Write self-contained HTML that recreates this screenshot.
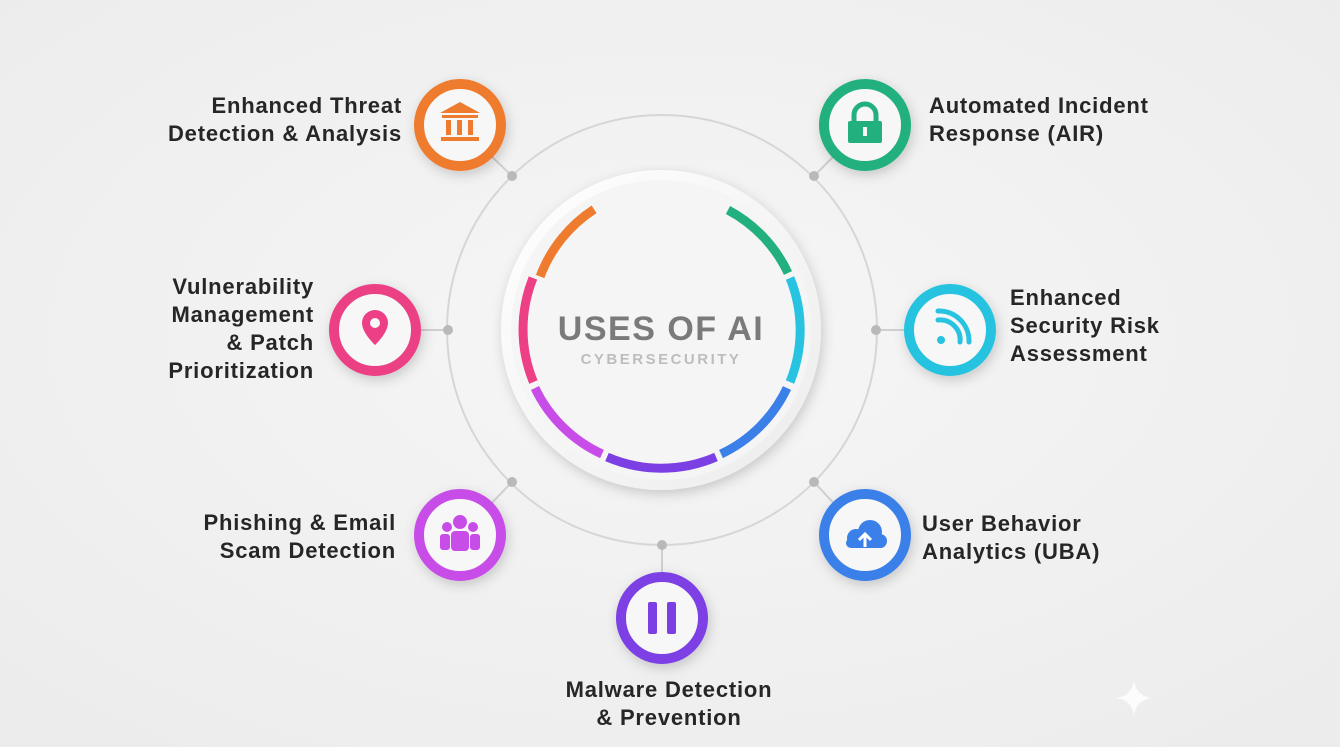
<!DOCTYPE html>
<html><head><style>
body{margin:0;width:1340px;height:747px;overflow:hidden;background:#f1f1f1;font-family:"Liberation Sans",sans-serif}
</style></head><body>
<svg width="1340" height="747" viewBox="0 0 1340 747" style="display:block">
<defs>
<radialGradient id="bg" cx="50%" cy="45%" r="70%"><stop offset="0" stop-color="#f6f6f6"/><stop offset="1" stop-color="#ececec"/></radialGradient>
<linearGradient id="disc" x1="0" y1="0" x2="1" y2="1"><stop offset="0" stop-color="#ffffff"/><stop offset="1" stop-color="#ececec"/></linearGradient>
<filter id="sh" x="-30%" y="-30%" width="160%" height="160%"><feDropShadow dx="2" dy="4" stdDeviation="6" flood-opacity="0.18"/></filter>
</defs>
<rect width="1340" height="747" fill="url(#bg)"/>
<circle cx="662" cy="330" r="215" fill="none" stroke="#d6d6d6" stroke-width="2"/>
<g stroke="#cfcfcf" stroke-width="2">
<line x1="512" y1="176" x2="485" y2="150"/>
<line x1="448" y1="330" x2="420" y2="330"/>
<line x1="512" y1="482" x2="485" y2="510"/>
<line x1="662" y1="545" x2="662" y2="572"/>
<line x1="814" y1="482" x2="840" y2="510"/>
<line x1="876" y1="330" x2="905" y2="330"/>
<line x1="814" y1="176" x2="840" y2="150"/>
</g>
<g fill="#b9b9b9">
<circle cx="512" cy="176" r="5"/><circle cx="448" cy="330" r="5"/><circle cx="512" cy="482" r="5"/><circle cx="662" cy="545" r="5"/><circle cx="814" cy="482" r="5"/><circle cx="876" cy="330" r="5"/><circle cx="814" cy="176" r="5"/>
</g>
<circle cx="661" cy="330" r="160" fill="url(#disc)" filter="url(#sh)"/>
<circle cx="661" cy="330" r="150" fill="#f5f5f5"/>
<g fill="none" stroke-width="9">
<path d="M540.1 276.5 A138 138 0 0 1 594.1 209.3" stroke="#ef7b2f"/>
<path d="M533.0 278.0 A138 138 0 0 0 533.4 382.0" stroke="#ec3f85"/>
<path d="M535.0 388.0 A138 138 0 0 0 602.0 454.0" stroke="#c84de8"/>
<path d="M607.0 457.0 A138 138 0 0 0 716.0 457.0" stroke="#7b3fe4"/>
<path d="M721.0 454.0 A138 138 0 0 0 787.0 388.0" stroke="#3b7fe8"/>
<path d="M790.0 382.0 A138 138 0 0 0 790.0 278.0" stroke="#27c3e0"/>
<path d="M788.0 273.0 A138 138 0 0 0 728.0 210.0" stroke="#22b07e"/>
</g>
<text x="661" y="340" text-anchor="middle" font-size="34" font-weight="bold" fill="#7a7a7a" letter-spacing="1.5">USES OF AI</text>
<text x="661" y="364" text-anchor="middle" font-size="15" font-weight="bold" fill="#bdbdbd" letter-spacing="2.5">CYBERSECURITY</text>
<g filter="url(#sh)">
<circle cx="460" cy="125" r="41" fill="#f7f7f7" stroke="#ef7b2f" stroke-width="10"/>
<circle cx="375" cy="330" r="41" fill="#f7f7f7" stroke="#ec3f85" stroke-width="10"/>
<circle cx="460" cy="535" r="41" fill="#f7f7f7" stroke="#c84de8" stroke-width="10"/>
<circle cx="662" cy="618" r="41" fill="#f7f7f7" stroke="#7b3fe4" stroke-width="10"/>
<circle cx="865" cy="535" r="41" fill="#f7f7f7" stroke="#3b7fe8" stroke-width="10"/>
<circle cx="950" cy="330" r="41" fill="#f7f7f7" stroke="#27c3e0" stroke-width="10"/>
<circle cx="865" cy="125" r="41" fill="#f7f7f7" stroke="#22b07e" stroke-width="10"/>
</g>
<g fill="#ef7b2f"><path d="M440 113 L460 102 L480 113 Z"/><rect x="442" y="115" width="36" height="3"/><rect x="446" y="120" width="5" height="15"/><rect x="457" y="120" width="5" height="15"/><rect x="468" y="120" width="5" height="15"/><rect x="441" y="137" width="38" height="4"/></g>
<path d="M375 310 a13 13 0 0 1 13 13 c0 10 -13 22 -13 22 c0 0 -13 -12 -13 -22 a13 13 0 0 1 13 -13z" fill="#ec3f85"/><circle cx="375" cy="323" r="5" fill="#f7f7f7"/>
<g fill="#c84de8"><circle cx="460" cy="522" r="7"/><circle cx="447" cy="527" r="5"/><circle cx="473" cy="527" r="5"/><rect x="451" y="531" width="18" height="20" rx="4"/><rect x="440" y="534" width="10" height="16" rx="3"/><rect x="470" y="534" width="10" height="16" rx="3"/></g>
<g fill="#7b3fe4"><rect x="648" y="602" width="9" height="32" rx="2"/><rect x="667" y="602" width="9" height="32" rx="2"/></g>
<g fill="#3b7fe8"><circle cx="856" cy="538" r="9"/><circle cx="870" cy="532" r="12"/><circle cx="880" cy="541" r="7"/><rect x="846" y="538" width="40" height="10" rx="5"/></g>
<path d="M865 547 v-12 M859 540 l6 -6 l6 6" stroke="#fff" stroke-width="3" fill="none"/>
<g fill="none" stroke="#27c3e0" stroke-width="5" stroke-linecap="round"><path d="M938 320 a20 20 0 0 1 22 22"/><path d="M938 311 a30 30 0 0 1 31 31"/></g>
<circle cx="941" cy="340" r="4" fill="#27c3e0"/>
<path d="M854 122 v-7 a11 11 0 0 1 22 0 v7" fill="none" stroke="#22b07e" stroke-width="5"/>
<rect x="848" y="121" width="34" height="22" rx="2" fill="#22b07e"/><rect x="863" y="127" width="4" height="9" fill="#f7f7f7"/>
<g font-size="22" font-weight="bold" fill="#262626" letter-spacing="0.8">
<text x="402" y="113" text-anchor="end">Enhanced Threat</text>
<text x="402" y="141" text-anchor="end">Detection &amp; Analysis</text>
<text x="314" y="294" text-anchor="end">Vulnerability</text>
<text x="314" y="322" text-anchor="end">Management</text>
<text x="314" y="350" text-anchor="end">&amp; Patch</text>
<text x="314" y="378" text-anchor="end">Prioritization</text>
<text x="396" y="530" text-anchor="end">Phishing &amp; Email</text>
<text x="396" y="558" text-anchor="end">Scam Detection</text>
<text x="669" y="697" text-anchor="middle">Malware Detection</text>
<text x="669" y="725" text-anchor="middle">&amp; Prevention</text>
<text x="922" y="531">User Behavior</text>
<text x="922" y="559">Analytics (UBA)</text>
<text x="1010" y="305">Enhanced</text>
<text x="1010" y="333">Security Risk</text>
<text x="1010" y="361">Assessment</text>
<text x="929" y="113">Automated Incident</text>
<text x="929" y="141">Response (AIR)</text>
</g>
<path d="M1134 680 q2 16 18 18 q-16 2 -18 18 q-2 -16 -18 -18 q16 -2 18 -18z" fill="#fff" opacity="0.8"/>
</svg>
</body></html>
